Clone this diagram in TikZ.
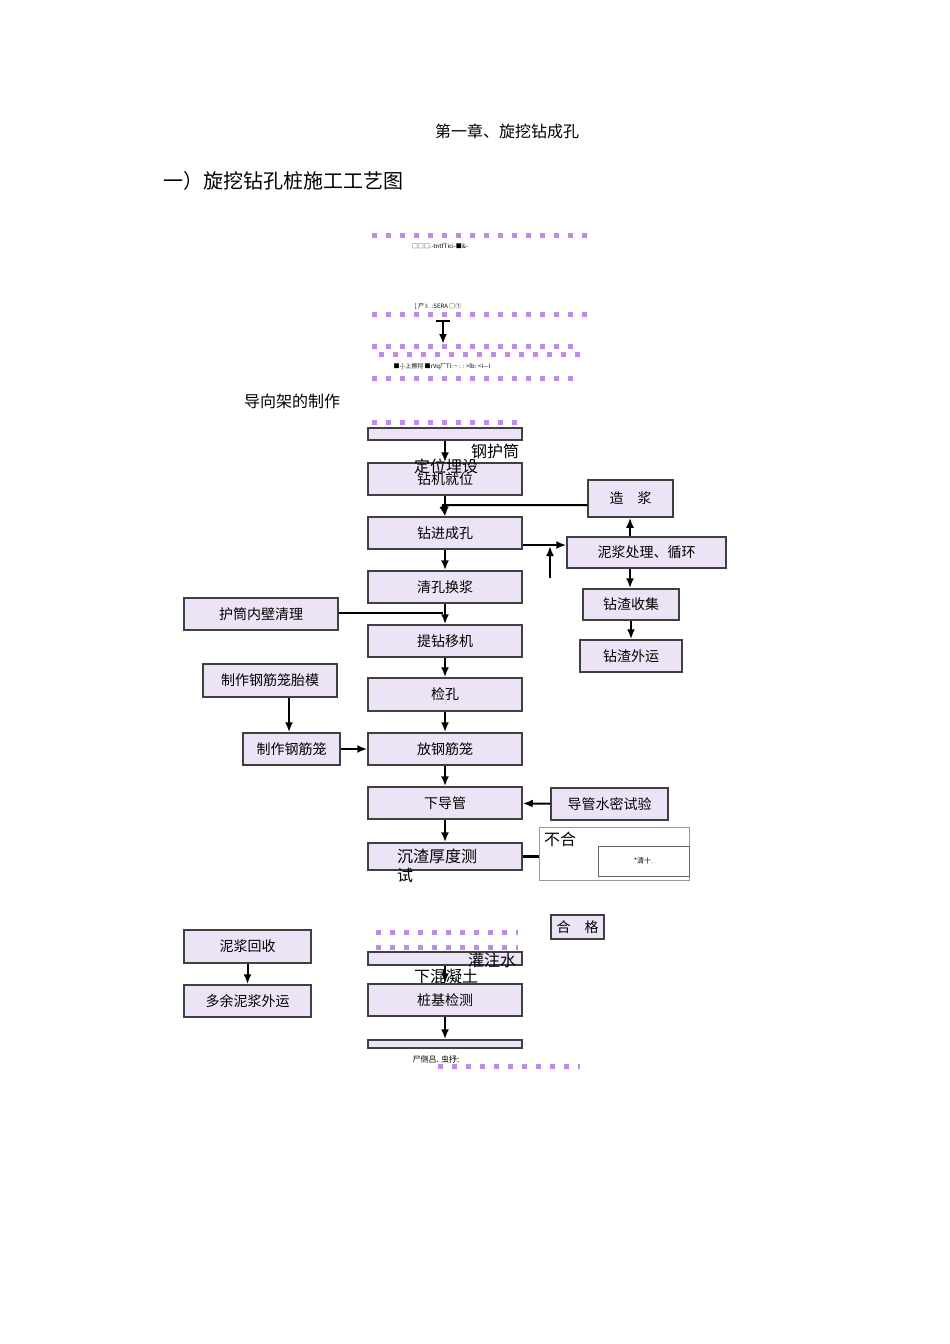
\documentclass[tikz,border=0pt]{standalone}
\usepackage{fontspec}
\setmainfont{Noto Sans CJK SC}
\usetikzlibrary{arrows.meta}
\definecolor{lav}{RGB}{236,228,246}
\definecolor{dotc}{RGB}{190,140,235}
\tikzset{
 bx/.style={draw=black!75,line width=1.5pt,fill=lav,font=\fontsize{14}{16}\selectfont},
 ar/.style={-{Latex[length=10pt,width=8pt]},line width=2pt},
 ln/.style={line width=2pt},
 dl/.style={dotc,line width=5pt,dash pattern=on 5pt off 9pt},
 tx/.style={font=\fontsize{16}{19}\selectfont}
}
\newcommand{\bxn}[6]{\node[bx,minimum width=#4pt,minimum height=#5pt,inner sep=0pt] (#1) at ({#2+#4/2},{#3+#5/2}) {#6};}
\begin{document}
\begin{tikzpicture}[x=1pt,y=-1pt]
\useasboundingbox (0,0) rectangle (950,1344);
\node[tx] (t1) at (507,131) {第一章、旋挖钻成孔};
\node[font=\fontsize{20}{23}\selectfont,anchor=west] (t2) at (160,181) {一）旋挖钻孔桩施工工艺图};
% dotted decorations
\draw[dl] (372,235) -- (590,235);
\draw[dl] (372,314) -- (588,314);
\draw[dl] (372,346) -- (580,346);
\draw[dl,dash phase=7pt] (372,354) -- (580,354);
\draw[dl] (372,378) -- (580,378);
\draw[dl] (372,422) -- (518,422);
\node[font=\fontsize{6}{7}\selectfont] (s1) at (440,246) {□□□.-tntfTici-■\&-};
\node[font=\fontsize{6}{7}\selectfont] (s2) at (438,306) {[ 尸 I: .:SERA □①};
\node[font=\fontsize{6}{7}\selectfont] (s3) at (442,367) {■-|-上擦捋 ■rVq厂TI: \textasciitilde{} : : >lb: <I—I};
\draw[{Bar[width=14pt]}-{Latex[length=10pt,width=8pt]},line width=2pt] (443,320) -- (443,344);
\node[tx] (dx) at (292,401) {导向架的制作};
\bxn{hh}{368}{428}{154}{12}{}
\node[tx] (gh) at (495,451) {钢护筒};
\bxn{zj}{368}{463}{154}{32}{\raisebox{-5pt}{钻机就位}}
\node[tx] (dw) at (446,466) {定位埋设};
\bxn{zaoj}{588}{480}{85}{37}{造\quad 浆}
\bxn{zjcb}{368}{517}{154}{32}{钻进成孔}
\bxn{nj}{567}{537}{159}{31}{泥浆处理、循环}
\bxn{qk}{368}{571}{154}{32}{清孔换浆}
\bxn{zzsj}{583}{589}{96}{31}{钻渣收集}
\bxn{hthb}{184}{598}{154}{32}{护筒内壁清理}
\bxn{tz}{368}{625}{154}{32}{提钻移机}
\bxn{zzwy}{580}{640}{102}{32}{钻渣外运}
\bxn{tm}{203}{664}{134}{33}{制作钢筋笼胎模}
\bxn{jk}{368}{678}{154}{33}{检孔}
\bxn{zzgj}{243}{733}{97}{32}{制作钢筋笼}
\bxn{fg}{368}{733}{154}{32}{放钢筋笼}
\bxn{xdg}{368}{787}{154}{32}{下导管}
\bxn{sm}{551}{788}{117}{32}{导管水密试验}
\bxn{cz}{368}{843}{154}{27}{}
\node[tx,align=left,anchor=north west,inner sep=0pt] (czt) at (397,849) {沉渣厚度测\\试};
\node[draw=black!40,line width=1pt,minimum width=150pt,minimum height=53pt,inner sep=0pt] (bh) at (614,853.5) {};
\node[tx,anchor=north west,inner sep=0pt] (bht) at (544,832) {不合};
\node[draw=black!60,line width=1pt,minimum width=91pt,minimum height=30pt,inner sep=0pt,font=\fontsize{7}{8}\selectfont] (qk2) at (643.5,861) {*清十.};
\bxn{hg}{551}{915}{53}{24}{合\quad 格}
\bxn{njhs}{184}{930}{127}{33}{泥浆回收}
\bxn{dy}{184}{985}{127}{32}{多余泥浆外运}
\draw[dl] (376,932) -- (518,932);
\draw[dl] (376,947) -- (518,947);
\bxn{gz}{368}{952}{154}{13}{}
\node[tx] (gzt) at (492,960) {灌注水};
\node[tx] (xh) at (446,976) {下混凝土};
\bxn{zjjc}{368}{984}{154}{32}{桩基检测}
\bxn{end}{368}{1040}{154}{8}{}
\node[font=\fontsize{8}{9}\selectfont] (et) at (436,1059) {尸侧吕. 虫抒:};
\draw[dl] (438,1066) -- (580,1066);
% arrows
\draw[ar] (hh) -- (zj);
\draw[ar] (zaoj.west|-0,505) -- (443,505) -- (zjcb.north);
\draw[ar] (zj) -- (zjcb);
\draw[ar] (zjcb.east|-0,545) -- (nj.west|-0,545);
\draw[ar] (550,578) -- (550,546);
\draw[ar] (nj.north-|630,0) -- (zaoj.south-|630,0);
\draw[ar] (nj.south-|630,0) -- (zzsj.north-|630,0);
\draw[ar] (zzsj) -- (zzwy);
\draw[ar] (zjcb) -- (qk);
\draw[ar] (qk) -- (tz);
\draw[ln] (hthb.east|-0,613) -- (443,613);
\draw[ar] (tz) -- (jk);
\draw[ar] (tm.south-|289,0) -- (zzgj.north-|289,0);
\draw[ar] (zzgj) -- (fg);
\draw[ar] (jk) -- (fg);
\draw[ar] (fg) -- (xdg);
\draw[ar] (sm) -- (xdg);
\draw[ar] (xdg) -- (cz);
\draw[ln,line width=3pt] (cz.east) -- (bh.west|-cz.east);
\draw[ar] (njhs) -- (dy);
\draw[ar] (gz) -- (zjjc);
\draw[ar] (zjjc) -- (end);
\end{tikzpicture}
\end{document}
